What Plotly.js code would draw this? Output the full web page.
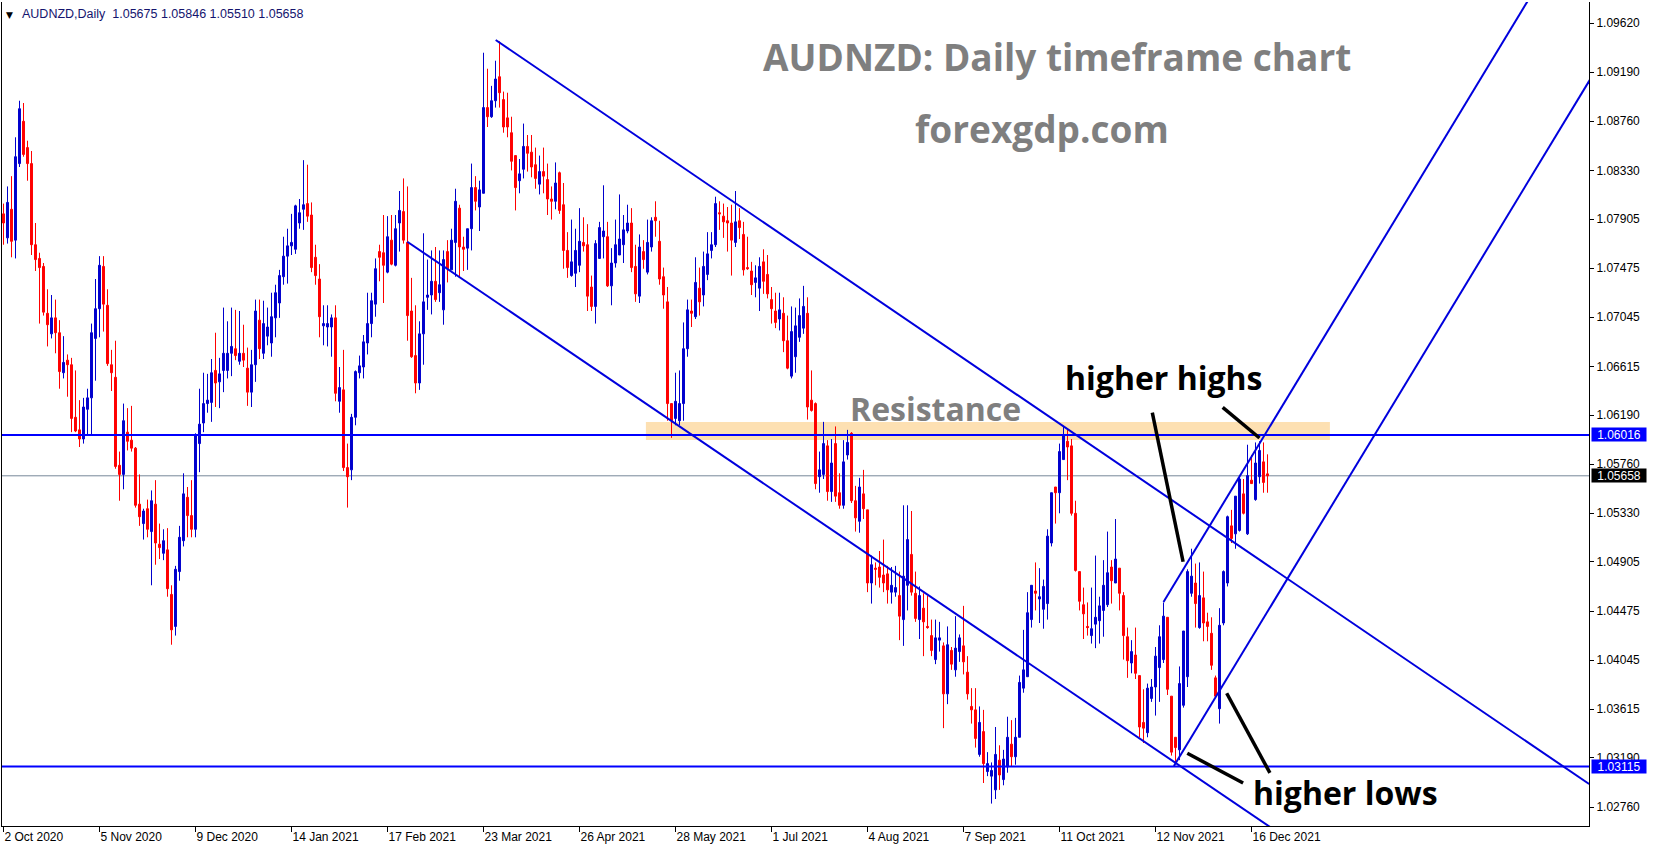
<!DOCTYPE html>
<html><head><meta charset="utf-8">
<script src="https://cdn.plot.ly/plotly-3.0.1.min.js"></script>
<style>html,body{margin:0;padding:0;background:#fff;overflow:hidden}#chart{width:1653px;height:850px}</style>
</head><body><div id="chart"></div>
<script>
const symbolName = 'AUDNZD,Daily';

const openPrices = [
1.0795,1.0774,1.0799,1.0772,1.0839,1.0876,1.0853,1.0839,1.0768,1.0756,
1.0749,1.0708,1.0690,1.0704,1.0691,1.0656,1.0667,1.0663,1.0617,1.0606,
1.0598,1.0624,1.0634,1.0686,1.0712,1.0749,1.0715,1.0663,1.0652,1.0575,
1.0567,1.0604,1.0597,1.0590,1.0541,1.0524,1.0537,1.0517,1.0541,1.0506,
1.0498,1.0501,1.0462,1.0434,1.0482,1.0509,1.0547,1.0531,1.0519,1.0594,
1.0612,1.0629,1.0630,1.0658,1.0648,1.0658,1.0658,1.0673,1.0677,1.0666,
1.0673,1.0660,1.0639,1.0663,1.0702,1.0673,1.0688,1.0682,1.0704,1.0717,
1.0740,1.0758,1.0767,1.0764,1.0787,1.0799,1.0804,1.0794,1.0757,1.0738,
1.0697,1.0696,1.0696,1.0704,1.0631,1.0641,1.0573,1.0571,1.0617,1.0656,
1.0661,1.0682,1.0699,1.0716,1.0762,1.0761,1.0744,1.0772,1.0750,1.0787,
1.0797,1.0770,1.0710,1.0671,1.0647,1.0690,1.0722,1.0724,1.0736,1.0726,
1.0711,1.0762,1.0746,1.0770,1.0800,1.0766,1.0765,1.0782,1.0818,1.0801,
1.0813,1.0888,1.0880,1.0894,1.0915,1.0895,1.0879,1.0866,1.0846,1.0824,
1.0834,1.0854,1.0849,1.0838,1.0821,1.0832,1.0825,1.0808,1.0806,1.0831,
1.0803,1.0763,1.0741,1.0743,1.0750,1.0770,1.0768,1.0731,1.0714,1.0756,
1.0775,1.0775,1.0732,1.0752,1.0759,1.0768,1.0780,1.0787,1.0749,1.0723,
1.0762,1.0744,1.0766,1.0792,1.0771,1.0740,1.0718,1.0629,1.0616,1.0614,
1.0629,1.0677,1.0710,1.0705,1.0730,1.0724,1.0742,1.0763,1.0768,1.0796,
1.0793,1.0789,1.0787,1.0770,1.0789,1.0777,1.0748,1.0745,1.0735,1.0730,
1.0753,1.0742,1.0720,1.0710,1.0703,1.0708,1.0684,1.0653,1.0670,1.0687,
1.0695,1.0708,1.0632,1.0629,1.0565,1.0567,1.0592,1.0552,1.0594,1.0551,
1.0540,1.0584,1.0603,1.0544,1.0526,1.0550,1.0536,1.0472,1.0485,1.0486,
1.0479,1.0480,1.0464,1.0464,1.0461,1.0440,1.0470,1.0497,1.0463,1.0440,
1.0450,1.0434,1.0426,1.0405,1.0422,1.0417,1.0375,1.0413,1.0396,1.0412,
1.0417,1.0394,1.0364,1.0361,1.0322,1.0342,1.0307,1.0303,1.0291,1.0317,
1.0300,1.0311,1.0331,1.0320,1.0337,1.0380,1.0390,1.0440,1.0465,1.0458,
1.0449,1.0454,1.0507,1.0556,1.0551,1.0580,1.0596,1.0592,1.0533,1.0482,
1.0453,1.0434,1.0426,1.0436,1.0439,1.0448,1.0453,1.0486,1.0472,1.0485,
1.0461,1.0425,1.0402,1.0409,1.0391,1.0350,1.0341,1.0371,1.0381,1.0398,
1.0405,1.0442,1.0373,1.0337,1.0326,1.0365,1.0390,1.0463,1.0472,1.0433,
1.0459,1.0438,1.0428,1.0389,1.0362,1.0437,1.0472,1.0522,1.0515,1.0518,
1.0550,1.0515,1.0562,1.0545,1.0565,1.0578,1.05675];

const highPrices = [
1.0804,1.0819,1.0828,1.0862,1.0894,1.0892,1.0859,1.0850,1.0787,1.0761,
1.0752,1.0729,1.0724,1.0720,1.0702,1.0688,1.0672,1.0669,1.0658,1.0632,
1.0634,1.0642,1.0699,1.0738,1.0758,1.0758,1.0729,1.0676,1.0684,1.0587,
1.0629,1.0625,1.0627,1.0591,1.0567,1.0537,1.0545,1.0553,1.0562,1.0524,
1.0519,1.0520,1.0470,1.0487,1.0522,1.0568,1.0556,1.0562,1.0603,1.0642,
1.0656,1.0655,1.0668,1.0691,1.0669,1.0713,1.0701,1.0713,1.0711,1.0710,
1.0698,1.0678,1.0676,1.0720,1.0720,1.0719,1.0713,1.0726,1.0733,1.0746,
1.0775,1.0782,1.0795,1.0803,1.0808,1.0842,1.0838,1.0805,1.0768,1.0751,
1.0715,1.0715,1.0707,1.0715,1.0661,1.0676,1.0594,1.0620,1.0658,1.0671,
1.0689,1.0726,1.0726,1.0756,1.0768,1.0794,1.0793,1.0794,1.0794,1.0815,
1.0826,1.0819,1.0739,1.0715,1.0701,1.0778,1.0755,1.0763,1.0766,1.0763,
1.0763,1.0772,1.0782,1.0817,1.0803,1.0775,1.0782,1.0839,1.0828,1.0824,
1.0936,1.0922,1.0907,1.0929,1.0946,1.0902,1.0901,1.0880,1.0846,1.0843,
1.0874,1.0864,1.0864,1.0853,1.0846,1.0853,1.0839,1.0819,1.0840,1.0832,
1.0822,1.0779,1.0790,1.0782,1.0800,1.0792,1.0786,1.0741,1.0772,1.0788,
1.0820,1.0788,1.0765,1.0790,1.0812,1.0794,1.0803,1.0800,1.0768,1.0777,
1.0772,1.0790,1.0792,1.0806,1.0789,1.0748,1.0731,1.0629,1.0656,1.0658,
1.0700,1.0720,1.0720,1.0757,1.0748,1.0762,1.0779,1.0779,1.0810,1.0806,
1.0804,1.0801,1.0803,1.0815,1.0800,1.0788,1.0775,1.0753,1.0750,1.0757,
1.0764,1.0759,1.0731,1.0726,1.0726,1.0722,1.0706,1.0714,1.0713,1.0721,
1.0732,1.0722,1.0658,1.0630,1.0587,1.0613,1.0597,1.0598,1.0609,1.0568,
1.0597,1.0606,1.0604,1.0557,1.0564,1.0571,1.0536,1.0496,1.0490,1.0500,
1.0510,1.0487,1.0486,1.0487,1.0482,1.0540,1.0540,1.0535,1.0482,1.0469,
1.0463,1.0461,1.0440,1.0440,1.0438,1.0420,1.0434,1.0416,1.0443,1.0427,
1.0452,1.0408,1.0380,1.0380,1.0364,1.0361,1.0324,1.0315,1.0346,1.0330,
1.0326,1.0355,1.0352,1.0354,1.0391,1.0431,1.0464,1.0470,1.0490,1.0485,
1.0475,1.0519,1.0551,1.0556,1.0594,1.0609,1.0606,1.0598,1.0544,1.0482,
1.0468,1.0455,1.0468,1.0496,1.0460,1.0492,1.0517,1.0492,1.0528,1.0485,
1.0464,1.0433,1.0422,1.0433,1.0391,1.0379,1.0384,1.0388,1.0416,1.0435,
1.0455,1.0442,1.0373,1.0337,1.0399,1.0430,1.0484,1.0502,1.0489,1.0490,
1.0482,1.0446,1.0442,1.0391,1.0450,1.0483,1.0531,1.0536,1.0548,1.0566,
1.0563,1.0593,1.0584,1.0595,1.0596,1.0595,1.05846];

const lowPrices = [
1.0768,1.0769,1.0757,1.0756,1.0836,1.0845,1.0824,1.0759,1.0745,1.0699,
1.0706,1.0679,1.0686,1.0673,1.0642,1.0651,1.0635,1.0604,1.0604,1.0591,
1.0594,1.0602,1.0602,1.0649,1.0687,1.0692,1.0662,1.0640,1.0572,1.0544,
1.0554,1.0588,1.0587,1.0538,1.0522,1.0510,1.0512,1.0470,1.0488,1.0493,
1.0492,1.0460,1.0418,1.0426,1.0474,1.0504,1.0512,1.0512,1.0512,1.0569,
1.0604,1.0621,1.0613,1.0626,1.0625,1.0639,1.0651,1.0653,1.0667,1.0663,
1.0661,1.0627,1.0626,1.0648,1.0668,1.0668,1.0680,1.0670,1.0687,1.0704,
1.0733,1.0734,1.0759,1.0760,1.0782,1.0781,1.0788,1.0744,1.0733,1.0687,
1.0680,1.0679,1.0670,1.0631,1.0621,1.0570,1.0538,1.0562,1.0610,1.0651,
1.0651,1.0672,1.0687,1.0705,1.0736,1.0717,1.0743,1.0750,1.0749,1.0762,
1.0769,1.0684,1.0669,1.0638,1.0641,1.0663,1.0711,1.0707,1.0718,1.0718,
1.0698,1.0735,1.0746,1.0740,1.0740,1.0745,1.0746,1.0763,1.0798,1.0780,
1.0813,1.0871,1.0879,1.0888,1.0888,1.0866,1.0862,1.0833,1.0798,1.0813,
1.0826,1.0832,1.0827,1.0817,1.0812,1.0813,1.0794,1.0790,1.0799,1.0795,
1.0747,1.0739,1.0740,1.0731,1.0744,1.0762,1.0710,1.0710,1.0699,1.0756,
1.0756,1.0731,1.0715,1.0748,1.0759,1.0752,1.0778,1.0744,1.0718,1.0717,
1.0747,1.0742,1.0762,1.0775,1.0733,1.0712,1.0614,1.0599,1.0610,1.0610,
1.0614,1.0670,1.0696,1.0703,1.0706,1.0714,1.0737,1.0756,1.0766,1.0781,
1.0774,1.0762,1.0741,1.0766,1.0773,1.0741,1.0746,1.0724,1.0722,1.0710,
1.0725,1.0721,1.0699,1.0695,1.0693,1.0674,1.0659,1.0651,1.0656,1.0683,
1.0690,1.0615,1.0622,1.0554,1.0551,1.0563,1.0544,1.0543,1.0543,1.0537,
1.0537,1.0580,1.0542,1.0517,1.0516,1.0528,1.0464,1.0454,1.0470,1.0468,
1.0464,1.0454,1.0454,1.0460,1.0422,1.0417,1.0448,1.0461,1.0438,1.0423,
1.0408,1.0432,1.0408,1.0401,1.0412,1.0345,1.0366,1.0396,1.0390,1.0403,
1.0392,1.0370,1.0349,1.0328,1.0320,1.0297,1.0303,1.0279,1.0283,1.0291,
1.0295,1.0306,1.0311,1.0313,1.0337,1.0376,1.0390,1.0433,1.0448,1.0437,
1.0432,1.0440,1.0504,1.0524,1.0533,1.0580,1.0562,1.0531,1.0482,1.0448,
1.0423,1.0426,1.0419,1.0415,1.0419,1.0425,1.0451,1.0454,1.0472,1.0448,
1.0405,1.0389,1.0393,1.0388,1.0337,1.0332,1.0337,1.0368,1.0356,1.0368,
1.0402,1.0374,1.0321,1.0315,1.0317,1.0363,1.0381,1.0460,1.0433,1.0432,
1.0421,1.0421,1.0396,1.0371,1.0349,1.0435,1.0469,1.0507,1.0502,1.0517,
1.0532,1.0514,1.0559,1.0544,1.0559,1.0551,1.05510];

const closePrices = [
1.0787,1.0805,1.0771,1.0845,1.0887,1.0847,1.0839,1.0768,1.0755,1.0748,
1.0709,1.0698,1.0704,1.0691,1.0657,1.0665,1.0663,1.0616,1.0605,1.0598,
1.0626,1.0634,1.0691,1.0712,1.0750,1.0716,1.0664,1.0656,1.0574,1.0567,
1.0614,1.0596,1.0590,1.0540,1.0530,1.0535,1.0519,1.0544,1.0507,1.0503,
1.0509,1.0467,1.0431,1.0484,1.0512,1.0550,1.0531,1.0519,1.0601,1.0611,
1.0629,1.0632,1.0656,1.0647,1.0655,1.0673,1.0673,1.0679,1.0671,1.0673,
1.0667,1.0639,1.0663,1.0710,1.0677,1.0699,1.0696,1.0705,1.0726,1.0741,
1.0758,1.0767,1.0770,1.0802,1.0796,1.0803,1.0793,1.0748,1.0741,1.0705,
1.0699,1.0699,1.0704,1.0638,1.0643,1.0573,1.0565,1.0617,1.0657,1.0662,
1.0683,1.0699,1.0719,1.0747,1.0757,1.0750,1.0775,1.0751,1.0782,1.0798,
1.0772,1.0706,1.0670,1.0647,1.0690,1.0718,1.0724,1.0736,1.0720,1.0733,
1.0755,1.0747,1.0772,1.0806,1.0766,1.0764,1.0782,1.0818,1.0806,1.0816,
1.0888,1.0880,1.0894,1.0913,1.0901,1.0871,1.0871,1.0841,1.0818,1.0830,
1.0854,1.0848,1.0836,1.0826,1.0832,1.0828,1.0808,1.0806,1.0822,1.0798,
1.0763,1.0748,1.0753,1.0763,1.0771,1.0767,1.0723,1.0714,1.0769,1.0783,
1.0780,1.0732,1.0752,1.0768,1.0773,1.0781,1.0787,1.0748,1.0725,1.0766,
1.0755,1.0770,1.0789,1.0789,1.0738,1.0724,1.0629,1.0614,1.0631,1.0629,
1.0677,1.0711,1.0708,1.0735,1.0718,1.0749,1.0760,1.0768,1.0804,1.0795,
1.0788,1.0787,1.0772,1.0788,1.0783,1.0746,1.0747,1.0733,1.0739,1.0749,
1.0736,1.0725,1.0712,1.0700,1.0711,1.0684,1.0660,1.0692,1.0697,1.0706,
1.0714,1.0626,1.0623,1.0559,1.0571,1.0594,1.0552,1.0577,1.0548,1.0540,
1.0578,1.0595,1.0544,1.0529,1.0556,1.0537,1.0472,1.0488,1.0484,1.0477,
1.0472,1.0466,1.0470,1.0468,1.0443,1.0478,1.0510,1.0464,1.0441,1.0461,
1.0438,1.0433,1.0413,1.0424,1.0424,1.0375,1.0418,1.0401,1.0415,1.0424,
1.0403,1.0375,1.0361,1.0336,1.0350,1.0314,1.0314,1.0308,1.0322,1.0304,
1.0318,1.0337,1.0320,1.0337,1.0385,1.0396,1.0446,1.0470,1.0463,1.0460,
1.0469,1.0513,1.0551,1.0551,1.0587,1.0601,1.0591,1.0533,1.0483,1.0456,
1.0445,1.0433,1.0432,1.0442,1.0452,1.0470,1.0481,1.0474,1.0493,1.0463,
1.0426,1.0404,1.0412,1.0393,1.0346,1.0345,1.0380,1.0381,1.0408,1.0425,
1.0443,1.0379,1.0324,1.0328,1.0384,1.0430,1.0482,1.0478,1.0454,1.0461,
1.0437,1.0434,1.0400,1.0373,1.0435,1.0482,1.0530,1.0511,1.0548,1.0563,
1.0533,1.0566,1.0559,1.0577,1.0588,1.0560,1.05658];

const dateTickIndex = [0,24,48,72,96,120,144,168,192,216,240,264,288,312];
const dateTickLabels = ['2 Oct 2020','5 Nov 2020','9 Dec 2020','14 Jan 2021','17 Feb 2021','23 Mar 2021','26 Apr 2021','28 May 2021','1 Jul 2021','4 Aug 2021','7 Sep 2021','11 Oct 2021','12 Nov 2021','16 Dec 2021'];
const priceTicks = [1.09620,1.09190,1.08760,1.08330,1.07905,1.07475,1.07045,1.06615,1.06190,1.05760,1.05330,1.04905,1.04475,1.04045,1.03615,1.03190,1.02760];

const resistanceLevel = 1.06016;
const supportLevel = 1.03115;
const resistanceZonePrices = [1.05971, 1.06129];
const resistanceZoneIndex = [160.6, 331.6];

// drawn trend lines: [index0, price0, index1, price1]
const downChannel = [[123.05, 1.09471, 396.4, 1.02961], [100.95, 1.07706, 324.9, 1.02389]];
const upChannel = [[290.0, 1.04554, 388.8, 1.10260], [292.6, 1.03119, 400.0, 1.09320]];
const pointerLines = [[287.2, 1.06210, 294.9, 1.04906], [304.8, 1.06257, 314.0, 1.05989],
                      [295.95, 1.03230, 309.9, 1.02970], [305.8, 1.03755, 316.6, 1.03058]];

const candleIndex = openPrices.map((_, i) => i);
const last = openPrices.length - 1;

const BLUE = '#0000cd', RED = '#ff0000', LINEBLUE = '#0000ff';
const AXFONT = {family: 'Liberation Sans, Arial, sans-serif', size: 12, color: '#000'};

const trace = {
  type: 'candlestick', x: candleIndex,
  open: openPrices, high: highPrices, low: lowPrices, close: closePrices,
  increasing: {line: {color: BLUE, width: 1}, fillcolor: BLUE},
  decreasing: {line: {color: RED, width: 1}, fillcolor: RED},
  whiskerwidth: 0, hoverinfo: 'skip', showlegend: false
};

const shapes = [];
shapes.push({type: 'rect', xref: 'x', yref: 'y', x0: resistanceZoneIndex[0], x1: resistanceZoneIndex[1],
  y0: resistanceZonePrices[0], y1: resistanceZonePrices[1], fillcolor: '#fde0b2', line: {width: 0}, layer: 'below'});
shapes.push({type: 'line', xref: 'paper', yref: 'y', x0: 0, x1: 1, y0: closePrices[last], y1: closePrices[last],
  line: {color: '#778899', width: 1}, layer: 'below'});
[resistanceLevel, supportLevel].forEach(v => shapes.push({type: 'line', xref: 'paper', yref: 'y', x0: 0, x1: 1, y0: v, y1: v,
  line: {color: LINEBLUE, width: 2}, layer: 'above'}));
downChannel.concat(upChannel).forEach(l => shapes.push({type: 'line', xref: 'x', yref: 'y', x0: l[0], y0: l[1], x1: l[2], y1: l[3],
  line: {color: '#0000dd', width: 2}, layer: 'above'}));
pointerLines.forEach(l => shapes.push({type: 'line', xref: 'x', yref: 'y', x0: l[0], y0: l[1], x1: l[2], y1: l[3],
  line: {color: '#000', width: 3.5}, layer: 'above'}));

const annotations = [];
const f5 = v => v.toFixed(5);
annotations.push({xref: 'paper', yref: 'paper', x: 0, y: 1, xanchor: 'left', yanchor: 'top', xshift: 2, yshift: -6,
  text: '▼', showarrow: false, font: {family: 'DejaVu Sans', size: 9, color: '#000'}});
annotations.push({xref: 'paper', yref: 'paper', x: 0, y: 1, xanchor: 'left', yanchor: 'top', xshift: 18, yshift: -3,
  text: symbolName + '  ' + [openPrices[last], highPrices[last], lowPrices[last], closePrices[last]].map(f5).join(' '),
  showarrow: false, font: {family: 'Liberation Sans, Arial, sans-serif', size: 12.5, color: '#14146e'}});

const GREYFONT = (s) => ({family: 'Open Sans, sans-serif', size: s, color: '#7f7f7f', weight: 'bold'});
annotations.push({xref: 'x', yref: 'y', x: 263.4, y: 1.09323, text: '<b>AUDNZD: Daily timeframe chart</b>', showarrow: false, font: GREYFONT(37)});
annotations.push({xref: 'x', yref: 'y', x: 259.5, y: 1.08701, text: '<b>forexgdp.com</b>', showarrow: false, font: GREYFONT(37)});
annotations.push({xref: 'x', yref: 'y', x: 232.9, y: 1.06251, text: '<b>Resistance</b>', showarrow: false, font: GREYFONT(32)});
annotations.push({xref: 'x', yref: 'y', x: 290.0, y: 1.06514, text: '<b>higher highs</b>', showarrow: false,
  font: {family: 'Open Sans, sans-serif', size: 32, color: '#000'}});
annotations.push({xref: 'x', yref: 'y', x: 335.5, y: 1.02891, text: '<b>higher lows</b>', showarrow: false,
  font: {family: 'Open Sans, sans-serif', size: 32, color: '#000'}});

[[resistanceLevel, LINEBLUE], [closePrices[last], '#000'], [supportLevel, LINEBLUE]].forEach(([v, c]) =>
  annotations.push({xref: 'paper', yref: 'y', x: 1, y: v, xanchor: 'left', yanchor: 'middle', xshift: 2,
    text: f5(v), showarrow: false, bgcolor: c, width: 54, height: 13, borderpad: 0,
    font: {family: 'Liberation Sans, Arial, sans-serif', size: 12, color: '#fff'}}));

const layout = {
  width: 1653, height: 850, autosize: false,
  margin: {l: 2, r: 64, t: 2, b: 24, pad: 0},
  paper_bgcolor: '#fff', plot_bgcolor: '#fff',
  showlegend: false,
  xaxis: {range: [-0.375, 396.375], rangeslider: {visible: false}, showgrid: false, zeroline: false,
    tickmode: 'array', tickvals: dateTickIndex, ticktext: dateTickLabels, ticks: 'outside', ticklen: 5,
    tickcolor: '#000', ticklabelposition: 'outside right', showline: true, linecolor: '#000', linewidth: 1,
    tickfont: AXFONT, fixedrange: true},
  yaxis: {range: [1.025938, 1.098038], side: 'right', showgrid: false, zeroline: false,
    tickmode: 'array', tickvals: priceTicks, ticktext: priceTicks.map(f5), ticks: 'outside', ticklen: 4,
    tickcolor: '#000', showline: true, mirror: true, linecolor: '#000', linewidth: 1, tickfont: AXFONT, fixedrange: true},
  shapes: shapes, annotations: annotations
};

Plotly.newPlot('chart', [trace], layout, {staticPlot: true, displayModeBar: false});
</script></body></html>
